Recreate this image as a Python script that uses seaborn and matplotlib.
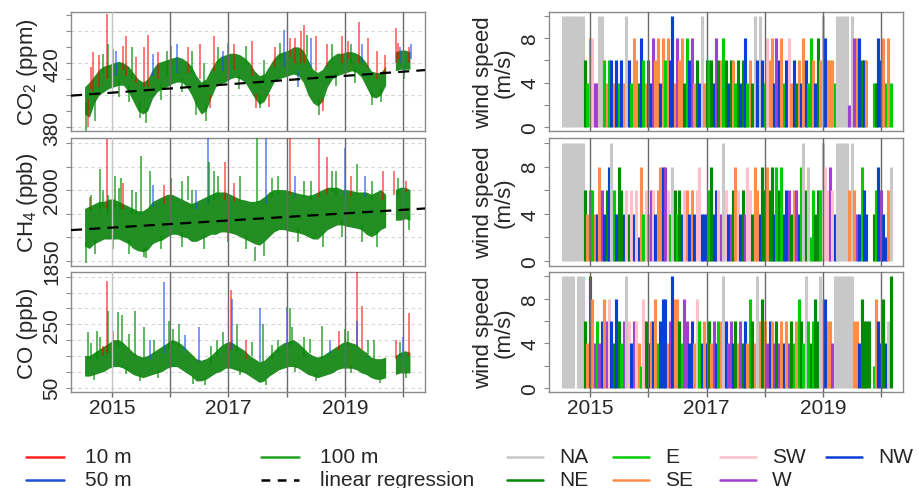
import numpy as np
import pandas as pd
import matplotlib
matplotlib.use("Agg")
import matplotlib.pyplot as plt
import seaborn as sns
from matplotlib.lines import Line2D

nan = np.nan

# ---------------- data: monthly envelope of the 100 m records (Jul 2014 - Feb 2020)
months = pd.period_range("2014-07", periods=68, freq="M")

co2_lo = [388, 386, 395, 400, 402, 404,
          405, 406, 406, 402, 396, 390, 388, 390, 398, 402, 404, 405,
          407, 408, 408, 405, 400, 393, 388, 390, 398, 405, 407, 408,
          410, 411, 410, 408, 403, 398, 394, 396, 402, 408, 410, 411,
          412, 413, 412, 408, 400, 395, 393, 396, 405, 410, 412, 413,
          414, 415, 414, 411, 405, 399, 398, 400, 406, nan, 415, 416,
          416, 416]
co2_hi = [405, 408, 412, 416, 418, 419,
          420, 421, 420, 418, 414, 410, 408, 410, 416, 420, 421, 422,
          423, 424, 423, 421, 418, 412, 408, 410, 416, 421, 424, 425,
          426, 426, 425, 423, 420, 415, 412, 413, 418, 423, 426, 427,
          428, 430, 430, 428, 422, 416, 414, 416, 421, 424, 426, 426,
          427, 427, 426, 424, 420, 415, 414, 414, 418, nan, 427, 428,
          428, 427]

ch4_lo = [1880, 1875, 1885, 1890, 1895, 1895,
          1895, 1895, 1890, 1885, 1875, 1870, 1868, 1872, 1885, 1890, 1893, 1900,
          1905, 1905, 1900, 1898, 1890, 1890, 1895, 1900, 1905, 1905, 1910, 1910,
          1908, 1905, 1900, 1895, 1890, 1885, 1882, 1890, 1900, 1910, 1915, 1915,
          1912, 1910, 1908, 1905, 1900, 1895, 1895, 1905, 1915, 1920, 1925, 1925,
          1922, 1920, 1918, 1915, 1905, 1900, 1905, 1915, 1920, nan, 1935, 1935,
          1938, 1935]
ch4_hi = [1960, 1965, 1970, 1975, 1975, 1980,
          1980, 1975, 1970, 1965, 1960, 1955, 1955, 1962, 1975, 1980, 1985, 1990,
          1990, 1985, 1980, 1975, 1970, 1975, 1980, 1985, 1990, 1995, 1995, 1995,
          1990, 1985, 1980, 1978, 1975, 1975, 1978, 1985, 1995, 2000, 2000, 2000,
          1998, 1995, 1992, 1990, 1988, 1990, 1995, 2000, 2005, 2005, 2005, 2000,
          2000, 1998, 1995, 1995, 1995, 1990, 1995, 2000, 1990, nan, 2000, 2005,
          2005, 2000]

co_lo = [85, 85, 90, 95, 100, 110,
         115, 115, 110, 100, 90, 85, 80, 85, 90, 95, 100, 110,
         115, 115, 105, 95, 85, 70, 70, 75, 85, 95, 100, 110,
         110, 105, 100, 95, 85, 75, 65, 70, 85, 95, 105, 110,
         115, 115, 110, 100, 90, 85, 80, 85, 90, 95, 105, 110,
         110, 110, 105, 95, 90, 80, 75, 75, 80, nan, 90, 95,
         95, 95]
co_hi = [150, 150, 160, 170, 180, 190,
         200, 200, 190, 175, 160, 150, 145, 150, 160, 170, 180, 190,
         200, 195, 185, 170, 155, 140, 135, 140, 150, 165, 180, 190,
         195, 185, 175, 165, 150, 140, 130, 135, 150, 165, 180, 190,
         195, 200, 190, 175, 160, 150, 145, 150, 160, 170, 180, 190,
         195, 190, 185, 170, 160, 145, 140, 140, 145, nan, 150, 160,
         165, 160]

# short-lived excursions: time, from, to, height (r=10 m, b=50 m, g=100 m)
co2_sp_t = [2014.56, 2014.60, 2014.68, 2014.78, 2014.92, 2014.93, 2015.08, 2015.25, 2015.35, 2015.48,
            2015.55, 2015.62, 2015.80, 2015.95, 2016.12, 2016.30, 2016.52, 2016.62, 2016.75, 2016.90,
            2017.10, 2017.40, 2017.55, 2017.80, 2017.95, 2018.15, 2018.25, 2018.30, 2018.42, 2018.50,
            2018.55, 2018.70, 2018.95, 2019.10, 2019.25, 2019.40, 2019.55, 2019.62, 2019.87, 2019.95, 2020.10,
            2014.65, 2014.72, 2014.85, 2015.02, 2015.13, 2015.20, 2015.30, 2015.42, 2015.58, 2015.70,
            2015.85, 2016.02, 2016.20, 2016.38, 2016.45, 2016.58, 2016.68, 2016.83, 2017.00, 2017.18,
            2017.30, 2017.48, 2017.62, 2017.70, 2017.88, 2018.05, 2018.20, 2018.35, 2018.62, 2018.78,
            2018.85, 2019.05, 2019.18, 2019.30, 2019.47, 2019.68, 2019.92, 2020.02, 2020.14]
co2_sp_a = [378, 380, 402, 405, 410, 410, 412, 412, 410, 386, 405, 405, 410, 412, 414, 414, 410, 384, 415, 415,
            416, 412, 392, 418, 418, 420, 420, 420, 418, 415, 388, 418, 420, 420, 420, 418, 410, 396, 420, 420, 420,
            404, 398, 414, 416, 410, 416, 406, 408, 392, 412,
            407, 419, 411, 414, 396, 405, 400, 420, 422, 413,
            419, 401, 408, 401, 422, 424, 415, 424, 398, 420,
            415, 423, 417, 420, 402, 413, 423, 419, 423]
co2_sp_b = [395, 398, 427, 425, 451, 432, 428, 437, 430, 396, 430, 438, 427, 428, 432, 430, 432, 395, 437, 428,
            432, 434, 400, 430, 441, 436, 440, 444, 436, 437, 398, 432, 437, 432, 446, 436, 428, 404, 442, 430, 430,
            418, 384, 426, 429, 399, 431, 396, 424, 383, 426,
            397, 431, 402, 428, 388, 420, 392, 430, 433, 404,
            431, 392, 422, 393, 433, 436, 405, 438, 390, 432,
            406, 434, 408, 432, 394, 425, 433, 410, 432]
co2_sp_h = list("grrrrgbrgg" "rrrgbrrgrb" "rrgrbrrrbr" "grrgrrrgrb" "r"
                "rggbgrgrgb" "grggggrgbg" "grgrgrbgrg" "grgbgrrgb")

ch4_sp_t = [2014.56, 2014.62, 2014.80, 2014.92, 2014.93, 2015.05, 2015.15, 2015.35, 2015.50, 2015.55,
            2015.65, 2015.90, 2016.20, 2016.30, 2016.45, 2016.65, 2016.66, 2016.75, 2016.95, 2017.20,
            2017.45, 2017.50, 2017.65, 2017.85, 2018.05, 2018.30, 2018.55, 2018.70, 2018.85, 2019.00,
            2019.20, 2019.35, 2019.65, 2019.85, 2020.05,
            2014.65, 2014.72, 2014.85, 2015.02, 2015.13, 2015.20, 2015.30, 2015.42, 2015.58, 2015.70,
            2015.85, 2016.02, 2016.20, 2016.38, 2016.58, 2016.83, 2017.00, 2017.10, 2017.30, 2017.62,
            2017.75, 2018.15, 2018.20, 2018.42, 2018.62, 2018.78, 2018.95, 2019.10, 2019.30, 2019.47,
            2019.55, 2019.92, 2020.10]
ch4_sp_a = [1845, 1960, 1960, 1960, 1950, 1960, 1960, 1950, 1950, 1858, 1960, 1970, 1980, 1980, 1960,
            1970, 1970, 1980, 1980, 1975, 1850, 1970, 1970, 1990, 1990, 1985, 1985, 1990, 1990, 1990,
            1990, 1985, 1980, 1990, 1995,
            1955, 1895, 1965, 1905, 1965, 1960, 1895, 1950, 1880, 1965,
            1903, 1980, 1910, 1960, 1905, 1985, 1918, 1975, 1905, 1892,
            1985, 1985, 1918, 1978, 1910, 1995, 1935, 1988, 1925, 1980,
            1913, 1990, 1946]
ch4_sp_b = [1890, 1985, 2045, 2108, 1990, 2030, 2025, 2000, 2073, 1880, 2040, 2010, 2020, 2030, 2000,
            2110, 2060, 2040, 2060, 2030, 1880, 2110, 2110, 2030, 2110, 2020, 2110, 2070, 2040, 2090,
            2055, 2030, 2040, 2040, 2020,
            1990, 1865, 2000, 1875, 2005, 2015, 1865, 1995, 1855, 2010,
            1875, 2025, 1880, 2000, 1875, 2030, 1890, 2015, 1875, 1860,
            2025, 2030, 1890, 2020, 1880, 2040, 1900, 2030, 1890, 2020,
            1880, 2025, 1915]
ch4_sp_h = list("grgrgggggg" "grggbbggrg" "ggbgrgrrgb" "gbrr" "r"
                "gggggrgggb" "gggggggrgg" "gbgggggrgg" "ggg")

co_sp_t = [2014.60, 2014.75, 2014.85, 2014.92, 2014.93, 2015.10, 2015.17, 2015.40, 2015.55, 2015.65,
           2015.90, 2015.98, 2016.15, 2016.50, 2016.70, 2016.80, 2017.05, 2017.06, 2017.15, 2017.30,
           2017.55, 2017.60, 2017.85, 2018.00, 2018.05, 2018.30, 2018.60, 2018.90, 2019.05, 2019.20,
           2019.21, 2019.30, 2019.50, 2019.88, 2020.00, 2020.10,
           2014.65, 2014.70, 2014.80, 2015.02, 2015.25, 2015.30, 2015.48, 2015.72, 2015.80, 2016.05,
           2016.25, 2016.40, 2016.60, 2016.90, 2017.20, 2017.40, 2017.65, 2017.75, 2018.10, 2018.15,
           2018.40, 2018.50, 2018.75, 2019.00, 2019.10, 2019.40, 2019.60, 2019.95, 2020.05]
co_sp_a = [140, 140, 150, 160, 160, 180, 180, 150, 140, 140, 160, 170, 180, 130, 120, 150, 170, 170, 160, 140,
           130, 130, 160, 180, 180, 150, 140, 170, 180, 180, 180, 170, 140, 140, 150, 150,
           140, 95, 165, 190, 115, 170, 90, 155, 105, 188,
           170, 88, 80, 180, 112, 150, 75, 140, 188, 122,
           160, 95, 160, 185, 118, 155, 85, 150, 100]
co_sp_b = [225, 230, 180, 387, 293, 288, 280, 291, 240, 200, 383, 260, 250, 240, 180, 200, 358, 330, 250, 200,
           300, 250, 200, 305, 300, 210, 245, 230, 230, 414, 260, 309, 200, 200, 210, 285,
           190, 75, 210, 230, 92, 220, 70, 200, 82, 235,
           215, 62, 60, 225, 90, 195, 58, 185, 240, 100,
           205, 72, 200, 235, 95, 200, 65, 195, 82]
co_sp_h = list("ggrrgggggb" "bggbggrbgr" "bggbgggrgr" "brgrbr"
               "gggrgggggg" "bggggggggg" "ggbgggggg")

reg_t = [2014.30, 2020.38]
reg_co2 = [399.8, 415.8]
reg_ch4 = [1915.0, 1961.0]

# ---------------- data: wind speed (m/s) and direction, semi-monthly, three panels
wind_dates = pd.date_range("2014-07-15", periods=136, freq="SMS")
N = None
ws1 = [10, 10, 10, 10, 10, 10, 10, 10, 10,
       6, 4, 8, 8, 4, 4, 10, 10, 6, 4, 6, 6,
       4, 6, 4, 6, 4, 10, 6, 4, 8, 6, 4, 8,
       6, 4, 6, 4, 8, 6, 8, 4, 8, 6, 8, 6,
       10, 4, 8, 6, 8, 4, 8, 6, 8, 4, 6, 4,
       10, 4, 6, 6, 6, 4, 8, 6, 6, 8, 6, 4,
       6, 6, 4, 6, 4, 6, 8, 4, 6, 4, 10, 6,
       10, 6, 4, 8, 6, 8, 4, 8, 6, 8, 4, 6,
       8, 4, 6, 4, 6, 4, 8, 6, 4, 8, 6, 4,
       8, 6, 10, 8, 6, 6, 6, 4,
       10, 10, 10, 10, 10,
       2, 10, 8, 8, 8, 6, 6, 6,
       N, N,
       4, 4, 8, 6, 8, 4, 8, 4]
wd1 = ["NA"] * 9 + \
      "NE E SE SW W W NA NA E SE E NW".split() + \
      "SE NW E NW SE NA NW E SE SE NE NW".split() + \
      "E SE NE NW W SE SE NW SE E SE NW".split() + \
      "NW SE W SE SE NE E NW W SE NE NW".split() + \
      "NA SE NE E NE NW W NE SE E NE NW".split() + \
      "NE SE E NE NW NE NW E SE NE NA NW".split() + \
      "NA NW E SW SE SE NW W NW SE E NW".split() + \
      "SW SE NW NE SE NW SE NW E E SE NW".split() + \
      "NE SE NA NW SE SE SE E".split() + ["NA"] * 5 + \
      "W NA W SE NW NE NW SE".split() + ["NA", "NA"] + \
      "E NE NW NW SE E SE E".split()

ws2 = [10, 10, 10, 10, 10, 10, 10, 10, 10,
       6, 4, 6, 6, 4, 4, 8, 6, 4, 6, 8, 10,
       6, 4, 8, 6, 4, 6, 4, 6, 4, 6, 2, 8,
       4, 6, 4, 6, 6, 4, 6, 8, 8, 8, 6, 4,
       8, 6, 4, 6, 4, 6, 6, 4, 6, 4, 6, 8,
       4, 4, 4, 6, 8, 4, 6, 6, 4, 10, 6, 4,
       4, 6, 8, 6, 4, 6, 4, 8, 6, 4, 8, 6,
       4, 8, 6, 8, 6, 8, 4, 8, 6, 8, 4, 6,
       6, 4, 6, 6, 4, 8, 10, 6, 8, 2, 6, 4,
       6, 6, 10, 8, 6, 8, 6, 4,
       10, 10, 10, 10, 10,
       6, 10, 6, 4, 4, 8, 6, 4,
       N, N,
       4, 6, 8, 6, 4, 2, 6, 8]
wd2 = ["NA"] * 9 + \
      "NE SE E E SE NW SE W NW NE NW NA".split() + \
      "E NW NE NE NW SW NE SW NW SW NW SE".split() + \
      "E SW SE W SW NW SE SE NW W SW E".split() + \
      "NA NE E NE NW SW SE NW SE NW SW SW".split() + \
      "NW NW NW E NE NW NW SW W NA SW NW".split() + \
      "W NE SE SW NW NE W SW SW NE SE SE".split() + \
      "NW NE NE SE NE NE NW E NE E NW NW".split() + \
      "W NE SE W NW E NA NE NA E E NE".split() + \
      "NE E NA SW SW W SW NW".split() + ["NA"] * 5 + \
      "SE NA SE W NW E NW NW".split() + ["NA", "NA"] + \
      "NE E NW W NW NW SE NA".split()

ws3 = [10, 10, 10, 10, 10, N, 10, 10, 10,
       6, 4, 10, 8, 4, 6, 4, 6, 8, 6, 8, 6,
       4, 8, 6, 4, 6, 10, 6, 4, 6, 6, 4, 2,
       8, 6, 4, 6, 6, 8, 4, 6, 8, 8, 4, 6,
       10, 8, 8, 6, 4, 8, 6, 4, 6, 4, 8, 6,
       4, 6, 4, 6, 4, 6, 4, 6, 6, 10, 6, 4,
       6, 4, 6, 4, 6, 4, 6, 4, 8, 6, 4, 10,
       6, 8, 6, 4, 6, 6, 4, 6, 4, 6, 4, 6,
       4, 6, 4, 6, 8, 6, 4, 10, 6, 4, 6, 8,
       6, 10, 8, 8, 6, 6, 4, 10,
       10, 10, 10, 10, 10, 10, 10,
       6, 6, 4, 8, 6, 6, 6,
       N,
       2, 8, 6, 4, 8, 4, 6, 10]
wd3 = ["NA"] * 9 + \
      "NE SE NE SE W E W NW SE W SW NW".split() + \
      "NE NW NE E W NA SW NW W SW SE E".split() + \
      "SW NE NW SE NW SE E NW NW NW SE W".split() + \
      "NW SE SE NE E W W NW NW SE SW E".split() + \
      "NW SE NW NE SE W NW E SE NA NW W".split() + \
      "W NW NE SE W NE NW SE E NE SE NA".split() + \
      "SE NE SE W NW SE W NE W SE NW SE".split() + \
      "W NE E SE E NE E NA E NE E NE".split() + \
      "NE NA SW NW SE SE W NA".split() + ["NA"] * 7 + \
      "SE SE NW NE NE NE NE".split() + ["NA"] + \
      "E SE NW NW NE NW NA NE".split()

dir_names = ["NA", "NE", "E", "SE", "SW", "W", "NW"]
dir_colors = ["#C8C8C8", "#008B00", "#00CD00", "#FF8C4A", "#FFC0CB", "#A040D0", "#0A3FD6"]

# ---------------- helpers
def dec_year(dates):
    dates = pd.DatetimeIndex(dates)
    return (dates.year + (dates.dayofyear - 1) / (365 + dates.is_leap_year.astype(int))).to_numpy()

t_month = (months.year + (months.month - 0.5) / 12).to_numpy(dtype=float)
t_wind = dec_year(wind_dates)

sns.set_style("white")
plt.rcParams["font.family"] = ["Liberation Sans", "DejaVu Sans"]
plt.rcParams["mathtext.fontset"] = "custom"
plt.rcParams["mathtext.rm"] = "Liberation Sans"
plt.rcParams["mathtext.it"] = "Liberation Sans"
plt.rcParams["mathtext.default"] = "regular"

W, H = 919, 489
fig = plt.figure(figsize=(W / 100, H / 100), dpi=100)
fig.patch.set_facecolor("white")

LX = (71, 425.3)
RX = (549.3, 903.3)
ROWS = [(12.7, 132.3), (139.3, 266.7), (273.0, 393.3)]
XLIM = (2014.30, 2020.38)
FRAME = "#8a8a8a"
YEARLINE = "#6a6a6a"
TICK_FS = 15
LAB_FS = 16

def add_ax(xr, yr):
    x0, x1 = xr
    y0, y1 = yr
    return fig.add_axes([x0 / W, 1 - y1 / H, (x1 - x0) / W, (y1 - y0) / H])

def style_ax(ax, ylim, ticks, labels, bottom, left_side, grid=None):
    ax.set_xlim(*XLIM)
    ax.set_ylim(*ylim)
    ax.set_facecolor("white")
    for s in ax.spines.values():
        s.set_visible(True)
        s.set_color(FRAME)
        s.set_linewidth(1.0)
    ax.set_yticks(ticks)
    ax.set_yticklabels(labels, rotation=90, va="center", fontsize=TICK_FS)
    ax.tick_params(axis="y", length=3.5, width=0.8, color=FRAME, pad=3.5, left=True)
    if grid is not None:
        for g in grid:
            ax.axhline(g, color="#d4d4d4", lw=0.8, ls=(0, (3, 3)), zorder=0)
    for yr in range(2015, 2021):
        c = "#c4c4c4" if (left_side and yr == 2015) else YEARLINE
        ax.axvline(yr, color=c, lw=1.0, zorder=5)
    if bottom:
        ax.set_xticks(range(2015, 2021))
        ax.set_xticklabels(["2015", "", "2017", "", "2019", ""], fontsize=TICK_FS)
        ax.tick_params(axis="x", length=3.5, width=1.0, color=YEARLINE, pad=0.5, bottom=True)
    else:
        ax.set_xticks([])
    ax.set_xlabel("")
    ax.set_ylabel("")

height_col = {"r": (1.0, 0.0, 0.0, 0.6), "b": (0.12, 0.3, 0.95, 0.65), "g": (0.0, 0.55, 0.0, 0.7)}

def gas_panel(ax, lo, hi, sp_t, sp_a, sp_b, sp_h, reg=None):
    ax.fill_between(t_month, lo, hi, color="#0b820b", alpha=0.9, lw=0, zorder=2)
    ax.vlines(sp_t, sp_a, sp_b, colors=[height_col[h] for h in sp_h], lw=1.25, zorder=3)
    if reg is not None:
        sns.lineplot(x=reg_t, y=reg, ax=ax, color="black", lw=1.6, zorder=6)
        ax.lines[-1].set_dashes((5, 3.2))

# ---------------- left column
ax1 = add_ax(LX, ROWS[0])
gas_panel(ax1, co2_lo, co2_hi, co2_sp_t, co2_sp_a, co2_sp_b, co2_sp_h, reg_co2)
style_ax(ax1, (377.5, 452.3), list(range(380, 451, 10)),
         ["380", "", "", "", "420", "", "", ""], False, True, grid=[380, 400, 420, 440])

ax2 = add_ax(LX, ROWS[1])
gas_panel(ax2, ch4_lo, ch4_hi, ch4_sp_t, ch4_sp_a, ch4_sp_b, ch4_sp_h, reg_ch4)
style_ax(ax2, (1839.4, 2110), list(range(1850, 2101, 50)),
         ["1850", "", "", "2000", "", ""], False, True, grid=list(range(1850, 2101, 50)))

ax3 = add_ax(LX, ROWS[2])
gas_panel(ax3, co_lo, co_hi, co_sp_t, co_sp_a, co_sp_b, co_sp_h, None)
style_ax(ax3, (35.5, 414.8), list(range(50, 401, 50)),
         ["50", "", "", "", "250", "", "", ""], True, True, grid=list(range(50, 401, 50)))

for txt, (y0, y1) in zip(["CO$_2$ (ppm)", "CH$_4$ (ppb)", "CO (ppb)"], ROWS):
    fig.text(27 / W, 1 - (y0 + y1) / 2 / H, txt, rotation=90, ha="center", va="center", fontsize=LAB_FS)

# ---------------- right column
cmap = dict(zip(dir_names, dir_colors))
for row, (ws, wd) in enumerate([(ws1, wd1), (ws2, wd2), (ws3, wd3)]):
    ax = add_ax(RX, ROWS[row])
    spd = np.array([np.nan if v is None else v for v in ws], dtype=float)
    ok = ~np.isnan(spd)
    cols = [cmap[d] for d in np.array(wd)[ok]]
    ax.vlines(t_wind[ok], 0, spd[ok], colors=cols, lw=2.25, zorder=2)
    style_ax(ax, (-0.4, 10.4), [0, 2, 4, 6, 8, 10], ["0", "", "4", "", "8", ""], row == 2, False)
    y0, y1 = ROWS[row]
    fig.text(494 / W, 1 - (y0 + y1) / 2 / H, "wind speed\n(m/s)", rotation=90, ha="center",
             va="center", multialignment="center", fontsize=LAB_FS, linespacing=1.0)

# ---------------- legend
LEG_FS = 15
def leg_item(x0, x1, y, color, label, dashed=False, gap=21):
    yf = 1 - y / H
    ln = Line2D([x0 / W, x1 / W], [yf, yf], transform=fig.transFigure, color=color, lw=1.8)
    if dashed:
        ln.set_linestyle((0, (3.5, 3.0)))
    fig.add_artist(ln)
    fig.text((x1 + gap) / W, yf, label, ha="left", va="center", fontsize=LEG_FS)

R1, R2 = 458, 481
leg_item(26, 64, R1, "#FF2020", "10 m")
leg_item(26, 64, R2, "#2050D8", "50 m")
leg_item(261, 299, R1, "#22A022", "100 m")
leg_item(261, 299, R2, "black", "linear regression", dashed=True)
leg_pos = {"NA": (507, R1), "NE": (507, R2), "E": (613, R1), "SE": (613, R2),
           "SW": (720, R1), "W": (720, R2), "NW": (826, R1)}
for name in dir_names:
    x, y = leg_pos[name]
    leg_item(x, x + 36, y, cmap[name], name, gap=16)

fig.savefig("out.png", dpi=100, facecolor="white")
